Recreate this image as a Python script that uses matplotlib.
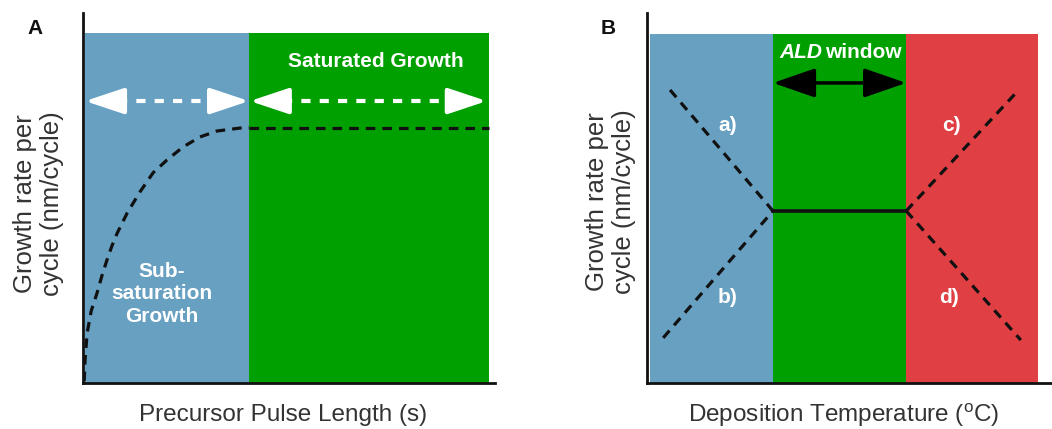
import matplotlib
matplotlib.use('Agg')
import matplotlib.pyplot as plt

plt.rcParams['font.family'] = ['Liberation Sans', 'DejaVu Sans']
plt.rcParams['mathtext.fontset'] = 'custom'
plt.rcParams['mathtext.rm'] = 'Liberation Sans'

BLUE = '#68a0c2'
GREEN = '#00a000'
RED = '#e04044'
TXT = '#333333'

# panel A: growth per cycle vs precursor pulse length
pulse_x = [0.03, 0.05, 0.10, 0.20, 0.34, 0.46, 0.58, 0.70, 0.83, 1.07, 1.38,
           1.70, 2.04, 2.43, 2.84, 3.25, 3.81, 4.03]
pulse_y = [0.05, 0.62, 1.35, 1.95, 2.43, 2.90, 3.32, 3.70, 4.05, 4.59, 5.16,
           5.68, 6.03, 6.38, 6.65, 6.81, 6.89, 6.90]
plateau_x = [4.03, 9.85]
plateau_y = [6.90, 6.90]
regions_a = [(0.05, 4.03, BLUE), (4.03, 9.85, GREEN)]
arrows_a = [(0.05, 4.03), (4.05, 9.80)]
arrow_a_y = 7.62
top_a = 9.46

# panel B: growth per cycle vs deposition temperature
regions_b = [(0.07, 3.11, BLUE), (3.11, 6.40, GREEN), (6.40, 9.65, RED)]
top_b = 9.43
window_x = [3.11, 6.40]
window_y = [4.65, 4.65]
branch_a = ([0.57, 3.11], [7.92, 4.65])
branch_b = ([0.40, 3.11], [1.22, 4.65])
branch_c = ([6.40, 9.11], [4.65, 7.84])
branch_d = ([6.40, 9.23], [4.65, 1.16])
window_arrow_y = 8.11
branch_labels = {'a)': (1.98, 6.97), 'b)': (1.98, 2.32),
                 'c)': (7.51, 6.97), 'd)': (7.46, 2.32)}

fig = plt.figure(figsize=(10.52, 4.29), dpi=100)
axA = fig.add_axes([83 / 1052, 46 / 429, 412 / 1052, 370 / 429])
axB = fig.add_axes([647 / 1052, 46 / 429, 405 / 1052, 370 / 429])


def style_axes(ax):
    ax.set_xlim(0, 10)
    ax.set_ylim(0, 10)
    ax.set_xticks([])
    ax.set_yticks([])
    for s in ['top', 'right']:
        ax.spines[s].set_visible(False)
    for s in ['left', 'bottom']:
        ax.spines[s].set_linewidth(2.0)
        ax.spines[s].set_color('#111111')
        ax.spines[s].set_zorder(5)


style_axes(axA)
style_axes(axB)

# --- panel A
for x0, x1, c in regions_a:
    axA.fill_between([x0, x1], 0, top_a, color=c, lw=0, zorder=1)

axA.plot(pulse_x, pulse_y, color='#111111', lw=2.3, dashes=[3, 2.2], zorder=3)
axA.plot(plateau_x, plateau_y, color='#111111', lw=2.3, dashes=[3, 2.2], zorder=3)

for x0, x1 in arrows_a:
    axA.plot([x0 + 0.8, x1 - 0.8], [arrow_a_y, arrow_a_y], color='white',
             lw=3, dashes=[2.2, 2.2], zorder=3)
    for tip, tail in [(x0, x0 + 0.9), (x1, x1 - 0.9)]:
        axA.annotate('', xy=(tip, arrow_a_y), xytext=(tail, arrow_a_y),
                     arrowprops=dict(arrowstyle='-|>,head_length=1.2,head_width=0.4',
                                     mutation_scale=20, color='white', lw=3,
                                     shrinkA=0, shrinkB=0), zorder=4)

axA.text(7.11, 8.68, 'Saturated Growth', color='white', fontsize=15,
         fontweight='bold', ha='center', va='center', zorder=4)
axA.text(1.92, 2.41, 'Sub-\nsaturation\nGrowth', color='white', fontsize=15,
         fontweight='bold', ha='center', va='center', linespacing=1.25, zorder=4)

axA.text(-0.109, 0.486, 'Growth rate per\ncycle (nm/cycle)', transform=axA.transAxes,
         rotation=90, ha='center', va='center', fontsize=18.5, color=TXT,
         linespacing=1.15)
axA.text(0.485, -0.086, 'Precursor Pulse Length (s)', transform=axA.transAxes,
         ha='center', va='center', fontsize=17.5, color=TXT)

# --- panel B
for x0, x1, c in regions_b:
    axB.fill_between([x0, x1], 0, top_b, color=c, lw=0, zorder=1)

for bx, by in [branch_a, branch_b, branch_c, branch_d]:
    axB.plot(bx, by, color='#111111', lw=2.3, dashes=[3, 2.2], zorder=3)
axB.plot(window_x, window_y, color='#111111', lw=2.6, zorder=3)

axB.annotate('', xy=(window_x[0], window_arrow_y), xytext=(window_x[1], window_arrow_y),
             arrowprops=dict(arrowstyle='<|-|>,head_length=1.3,head_width=0.45',
                             mutation_scale=20, color='black', lw=2.5,
                             shrinkA=0, shrinkB=0), zorder=4)

for lab, (tx, ty) in branch_labels.items():
    axB.text(tx, ty, lab, color='white', fontsize=15, fontweight='bold',
             ha='center', va='center', zorder=4)

axB.text(3.28, 8.92, 'ALD', color='white', fontsize=15, fontweight='bold',
         fontstyle='italic', ha='left', va='center', zorder=4)
axB.text(6.28, 8.92, 'window', color='white', fontsize=15, fontweight='bold',
         ha='right', va='center', zorder=4)

axB.text(-0.091, 0.489, 'Growth rate per\ncycle (nm/cycle)', transform=axB.transAxes,
         rotation=90, ha='center', va='center', fontsize=18.5, color=TXT,
         linespacing=1.15)
axB.text(0.486, -0.086, r'Deposition Temperature ($^{\rm o}$C)', transform=axB.transAxes,
         ha='center', va='center', fontsize=17.5, color=TXT)

fig.text(35 / 1052, 1 - 28 / 429, 'A', fontsize=15, fontweight='bold',
         ha='center', va='center', color='#111111')
fig.text(608 / 1052, 1 - 28 / 429, 'B', fontsize=15, fontweight='bold',
         ha='center', va='center', color='#111111')

fig.savefig('out.png', dpi=100)
